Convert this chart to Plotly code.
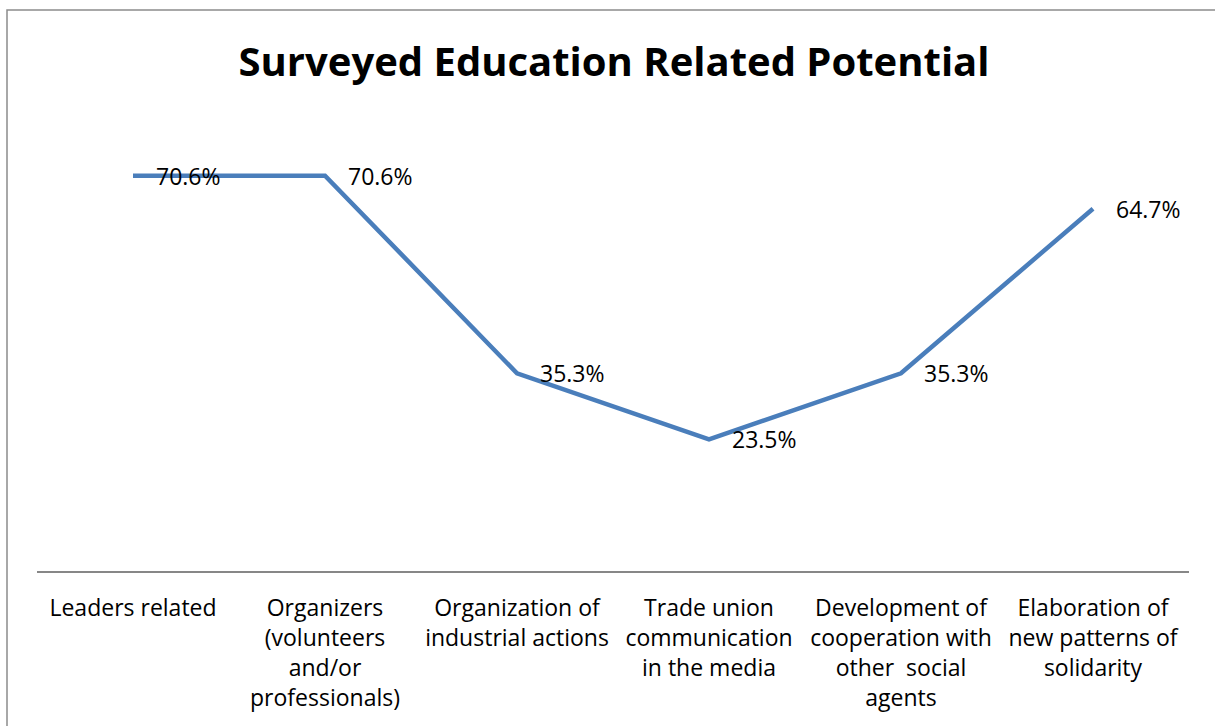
import plotly.graph_objects as go

categories = [
    "Leaders related",
    "Organizers<br>(volunteers<br>and/or<br>professionals)",
    "Organization of<br>industrial actions",
    "Trade union<br>communication<br>in the media",
    "Development of<br>cooperation with<br>other  social<br>agents",
    "Elaboration of<br>new patterns of<br>solidarity",
]
values = [70.6, 70.6, 35.3, 23.5, 35.3, 64.7]
value_labels = ["70.6%", "70.6%", "35.3%", "23.5%", "35.3%", "64.7%"]

FONT = "Open Sans"
W, H = 1215, 726
ml, mt = 37, 123
pw, ph = 1152, 448
mr = W - ml - pw
mb = H - mt - ph

fig = go.Figure()
fig.add_trace(go.Scatter(
    x=list(range(len(categories))),
    y=values,
    mode="lines",
    line=dict(color="#4A7EBB", width=4.5),
    hoverinfo="skip",
    showlegend=False,
))

annotations = []
for i, (v, t) in enumerate(zip(values, value_labels)):
    annotations.append(dict(
        x=i, y=v, xref="x", yref="y", text=t, showarrow=False,
        xanchor="left", yanchor="middle", xshift=21, yshift=0,
        font=dict(family=FONT, size=23, color="#000000"),
    ))

fig.update_layout(
    width=W, height=H,
    margin=dict(l=ml, r=mr, t=mt, b=mb),
    paper_bgcolor="white", plot_bgcolor="white",
    title=dict(
        text="<b>Surveyed Education Related Potential</b>",
        x=614 / W, xanchor="center", y=1 - 62 / H, yanchor="middle",
        xref="container",
        font=dict(family=FONT, size=40, color="#000000"),
    ),
    xaxis=dict(
        tickmode="array",
        tickvals=list(range(len(categories))),
        ticktext=categories,
        range=[-0.5, len(categories) - 0.5],
        showgrid=False, zeroline=False,
        showline=True, linecolor="#878787", linewidth=1.5,
        ticks="", ticklabelstandoff=16,
        tickfont=dict(family=FONT, size=23, color="#000000"),
        fixedrange=True,
    ),
    yaxis=dict(range=[0, 80], visible=False, fixedrange=True),
    annotations=annotations,
    shapes=[dict(
        type="rect", xref="paper", yref="paper",
        x0=(7 - ml) / pw, x1=1.2,
        y0=-1.0, y1=1 + (mt - 10) / ph,
        line=dict(color="#8C8C8C", width=1.5),
        fillcolor="rgba(0,0,0,0)", layer="below",
    )],
)

fig.write_html(
    "out.html",
    config={"displayModeBar": False},
    post_script="document.body.style.margin='0px';document.body.style.overflow='hidden';",
)
